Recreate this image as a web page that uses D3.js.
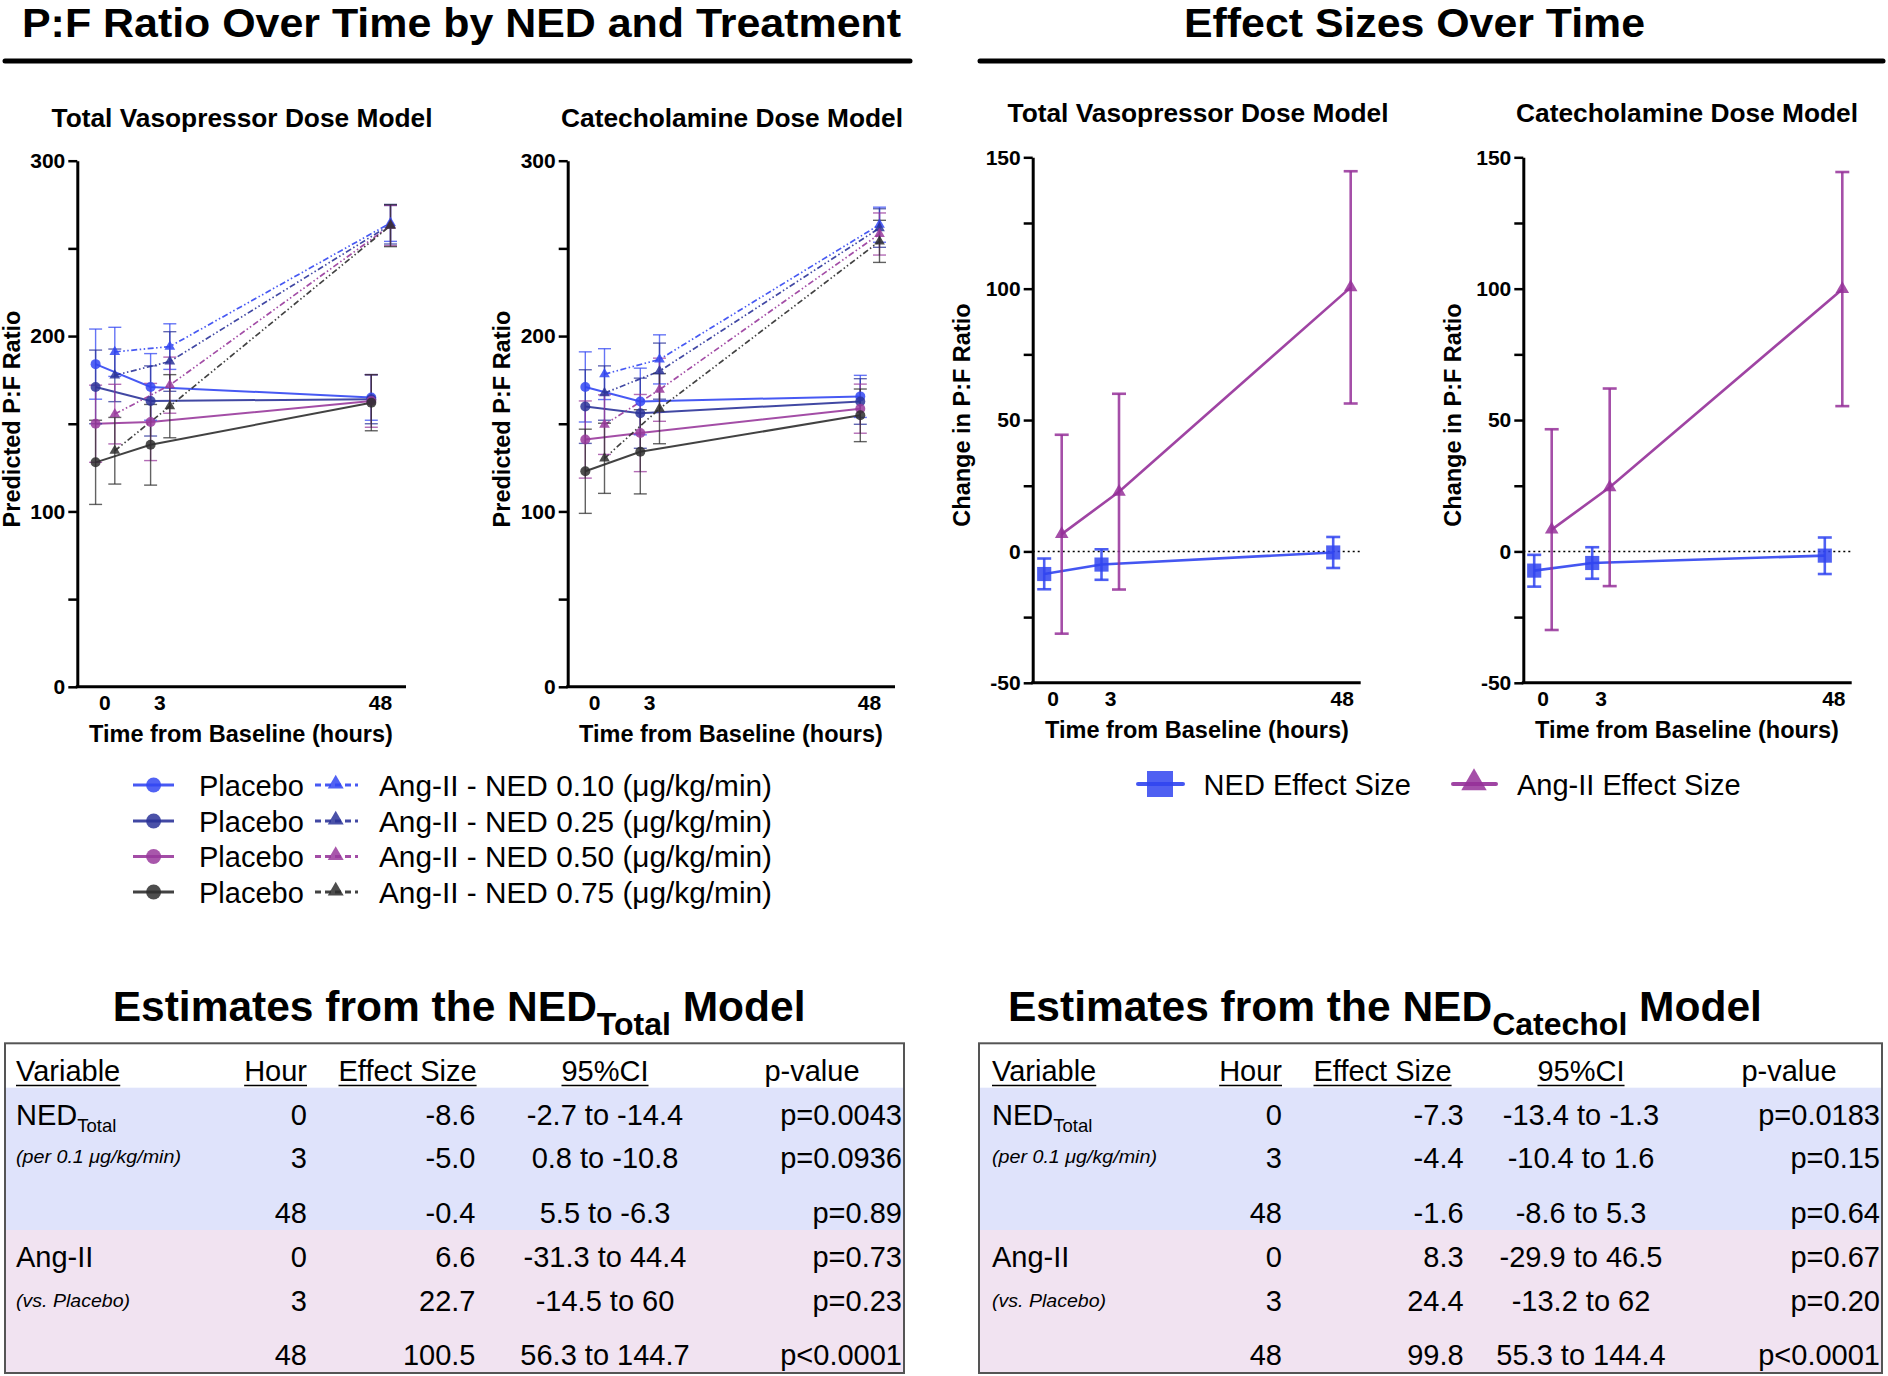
<!DOCTYPE html>
<html><head><meta charset="utf-8">
<script src="https://cdn.jsdelivr.net/npm/d3@7"></script>
<style>body{margin:0;background:#fff} svg{display:block} text{font-family:"Liberation Sans",Arial,Helvetica,sans-serif}</style>
</head><body><svg id="fig" width="1888" height="1376"></svg>
<script>
// ---------------- DATA ----------------
const times = [0, 3, 48];
const pfTickValues = [0, 50, 100, 150, 200, 250, 300];
const pfTickLabels = [0, 100, 200, 300];
const effTickValues = [-50, -25, 0, 25, 50, 75, 100, 125, 150];
const effTickLabels = [-50, 0, 50, 100, 150];
const doses = ["0.10", "0.25", "0.50", "0.75"];
const mainTitles = ["P:F Ratio Over Time by NED and Treatment", "Effect Sizes Over Time"];
const panelTitles = ["Total Vasopressor Dose Model", "Catecholamine Dose Model"];
const xTitle = "Time from Baseline (hours)";
const yTitles = ["Predicted P:F Ratio", "Change in P:F Ratio"];

// Predicted P:F (rows = NED dose 0.10/0.25/0.50/0.75, cols = hour 0/3/48); Err = CI half-width
const totPlaceboMean = [[184, 171, 165], [171, 163, 164], [150, 151, 163], [128, 138, 162]];
const totPlaceboErr  = [[20, 19, 13], [21, 20, 14], [22, 22, 15], [24, 23, 16]];
const totAngMean     = [[191, 194, 264.5], [177.6, 185.5, 263.5], [155.5, 172, 263], [134.6, 160, 263]];
const totAngErr      = [[14, 13, 10.5], [15, 17, 11], [17, 16, 11.5], [19, 18, 12]];
const catPlaceboMean = [[171, 162.7, 165.6], [159.8, 156, 162.7], [141, 144.7, 158.6], [122.9, 134, 154.8]];
const catPlaceboErr  = [[20, 19, 12], [21, 20, 13], [22, 22, 14], [24, 24, 15]];
const catAngMean     = [[178.3, 186.7, 263.5], [167.5, 180, 261.6], [149.5, 169.4, 258.2], [130.3, 158.6, 254]];
const catAngErr      = [[14.5, 14, 10], [15.5, 16, 11], [17, 18, 12], [20, 20, 12]];

// Effect sizes
const totNedEff = [-8.6, -5.0, -0.4], totNedLo = [-14.4, -10.8, -6.3], totNedHi = [-2.7, 0.8, 5.5];
const totAngEff = [6.6, 22.7, 100.5], totAngLo = [-31.3, -14.5, 56.3], totAngHi = [44.4, 60, 144.7];
const catNedEff = [-7.3, -4.4, -1.6], catNedLo = [-13.4, -10.4, -8.6], catNedHi = [-1.3, 1.6, 5.3];
const catAngEff = [8.3, 24.4, 99.8], catAngLo = [-29.9, -13.2, 55.3], catAngHi = [46.5, 62, 144.4];

// Tables
const tableHeaders = ["Variable", "Hour", "Effect Size", "95%CI", "p-value"];
const tableHours = ["0", "3", "48", "0", "3", "48"];
const totEffect = ["-8.6", "-5.0", "-0.4", "6.6", "22.7", "100.5"];
const totCI = ["-2.7 to -14.4", "0.8 to -10.8", "5.5 to -6.3", "-31.3 to 44.4", "-14.5 to 60", "56.3 to 144.7"];
const totP = ["p=0.0043", "p=0.0936", "p=0.89", "p=0.73", "p=0.23", "p<0.0001"];
const catEffect = ["-7.3", "-4.4", "-1.6", "8.3", "24.4", "99.8"];
const catCI = ["-13.4 to -1.3", "-10.4 to 1.6", "-8.6 to 5.3", "-29.9 to 46.5", "-13.2 to 62", "55.3 to 144.4"];
const catP = ["p=0.0183", "p=0.15", "p=0.64", "p=0.67", "p=0.20", "p<0.0001"];

// ---------------- STYLE ----------------
const doseColors = ["#3347f2", "#2c3499", "#993a9c", "#2e2e2e"];
const nedColor = "#3044f0", angColor = "#953099";
const angDash = "6,2.5,1.5,2.5,1.5,2.5";

const svg = d3.select("#fig");

// Headings and rules
svg.append("text").attr("x", 22).attr("y", 37).attr("font-size", 41).attr("font-weight", "bold")
  .attr("textLength", 879).attr("lengthAdjust", "spacingAndGlyphs").text(mainTitles[0]);
svg.append("text").attr("x", 1184).attr("y", 37).attr("font-size", 41).attr("font-weight", "bold")
  .attr("textLength", 461).attr("lengthAdjust", "spacingAndGlyphs").text(mainTitles[1]);
[[5, 910], [980, 1883]].forEach(([a, b]) => {
  svg.append("line").attr("x1", a).attr("x2", b).attr("y1", 61).attr("y2", 61)
    .attr("stroke", "#000").attr("stroke-width", 5).attr("stroke-linecap", "round");
});

function styleAxis(g) {
  g.select(".domain").attr("stroke", "#000").attr("stroke-width", 3);
  g.selectAll(".tick line").attr("stroke", "#000").attr("stroke-width", 2.5);
  g.selectAll(".tick text").attr("font-size", 21).attr("font-weight", "bold").attr("fill", "#000")
    .style("font-family", '"Liberation Sans", Arial, sans-serif');
}

function frame(o, y, x, tickValues, tickLabels) {
  const g = svg.append("g");
  g.append("text").attr("x", o.titleX).attr("y", o.titleY).attr("text-anchor", "middle")
    .attr("font-size", 26.3).attr("font-weight", "bold").text(o.title);
  const ya = g.append("g").attr("transform", `translate(${o.axisX},0)`)
    .call(d3.axisLeft(y).tickValues(tickValues).tickFormat(d => tickLabels.includes(d) ? d : "")
      .tickSize(9).tickSizeOuter(0).tickPadding(3));
  styleAxis(ya);
  g.append("line").attr("x1", o.axisX - 1.5).attr("x2", o.xEnd).attr("y1", y.range()[0]).attr("y2", y.range()[0])
    .attr("stroke", "#000").attr("stroke-width", 3);
  const xa = g.append("g").attr("transform", `translate(0,${o.yBot})`)
    .call(d3.axisBottom(x).tickValues(times).tickFormat(d => String(d)).tickSize(0).tickPadding(8));
  xa.select(".domain").remove();
  styleAxis(xa);
  g.append("text").attr("x", o.xTitleX).attr("y", o.xTitleY).attr("text-anchor", "middle")
    .attr("font-size", 23.5).attr("font-weight", "bold").text(xTitle);
  g.append("text").attr("transform", `translate(${o.yTitleX},${o.yTitleY}) rotate(-90)`).attr("text-anchor", "middle")
    .attr("font-size", 23.5).attr("font-weight", "bold").text(o.yTitle);
  return g;
}

function errBar(g, cx, y0, y1, color, half, w, op) {
  g.append("line").attr("x1", cx).attr("x2", cx).attr("y1", y0).attr("y2", y1)
    .attr("stroke", color).attr("stroke-width", w).attr("stroke-opacity", op);
  [y0, y1].forEach(yy => g.append("line").attr("x1", cx - half).attr("x2", cx + half).attr("y1", yy).attr("y2", yy)
    .attr("stroke", color).attr("stroke-width", w).attr("stroke-opacity", op));
}

function pfPanel(o) {
  const y = d3.scaleLinear().domain([0, 300]).range([o.yBot, o.yTop]);
  const x = d3.scaleLinear().domain(times).range(o.tickX);
  const g = frame(o, y, x, pfTickValues, pfTickLabels);
  const line = d3.line().x(d => d[0]).y(d => y(d[1]));
  const pOff = -8.7, aOff = 10.5;
  doseColors.forEach((c, i) => {
    g.append("path").attr("d", line(times.map((t, j) => [x(t) + aOff, o.am[i][j]])))
      .attr("fill", "none").attr("stroke", c).attr("stroke-width", 1.7).attr("stroke-dasharray", angDash).attr("stroke-opacity", 0.9);
    g.append("path").attr("d", line(times.map((t, j) => [x(t) + pOff, o.pm[i][j]])))
      .attr("fill", "none").attr("stroke", c).attr("stroke-width", 2).attr("stroke-opacity", 0.9);
  });
  doseColors.forEach((c, i) => {
    times.forEach((t, j) => {
      errBar(g, x(t) + pOff, y(o.pm[i][j] - o.pe[i][j]), y(o.pm[i][j] + o.pe[i][j]), c, 6.5, 1.4, 0.75);
      errBar(g, x(t) + aOff, y(o.am[i][j] - o.ae[i][j]), y(o.am[i][j] + o.ae[i][j]), c, 6.5, 1.4, 0.75);
    });
  });
  doseColors.forEach((c, i) => {
    times.forEach((t, j) => {
      g.append("circle").attr("cx", x(t) + pOff).attr("cy", y(o.pm[i][j])).attr("r", 5)
        .attr("fill", c).attr("fill-opacity", 0.85);
      g.append("path").attr("d", d3.symbol(d3.symbolTriangle, 50)())
        .attr("transform", `translate(${x(t) + aOff},${y(o.am[i][j])})`).attr("fill", c).attr("fill-opacity", 0.85);
    });
  });
}

function effPanel(o) {
  const y = d3.scaleLinear().domain([-50, 150]).range([o.yBot, o.yTop]);
  const x = d3.scaleLinear().domain(times).range(o.tickX);
  const g = frame(o, y, x, effTickValues, effTickLabels);
  g.append("line").attr("x1", o.axisX).attr("x2", o.xEnd).attr("y1", y(0)).attr("y2", y(0))
    .attr("stroke", "#000").attr("stroke-width", 1.6).attr("stroke-dasharray", "2,3");
  const line = d3.line().x(d => d[0]).y(d => y(d[1]));
  const nOff = -8.5, aOff = 9;
  g.append("path").attr("d", line(times.map((t, j) => [x(t) + aOff, o.ae[j]])))
    .attr("fill", "none").attr("stroke", angColor).attr("stroke-width", 2.6).attr("stroke-opacity", 0.9);
  g.append("path").attr("d", line(times.map((t, j) => [x(t) + nOff, o.ne[j]])))
    .attr("fill", "none").attr("stroke", nedColor).attr("stroke-width", 2.6).attr("stroke-opacity", 0.9);
  times.forEach((t, j) => {
    errBar(g, x(t) + aOff, y(o.alo[j]), y(o.ahi[j]), angColor, 7, 2.6, 0.85);
    errBar(g, x(t) + nOff, y(o.nlo[j]), y(o.nhi[j]), nedColor, 7, 2.6, 0.85);
  });
  times.forEach((t, j) => {
    g.append("path").attr("d", d3.symbol(d3.symbolTriangle, 80)())
      .attr("transform", `translate(${x(t) + aOff},${y(o.ae[j])})`).attr("fill", angColor).attr("fill-opacity", 0.85);
    g.append("path").attr("d", d3.symbol(d3.symbolSquare, 200)())
      .attr("transform", `translate(${x(t) + nOff},${y(o.ne[j])})`).attr("fill", nedColor).attr("fill-opacity", 0.85);
  });
}

pfPanel({ title: panelTitles[0], titleX: 242, titleY: 126.5, axisX: 77.3, xEnd: 406, yTop: 160.7, yBot: 686.8,
  tickX: [104.3, 159.3, 380], xTitleX: 241, xTitleY: 742, yTitleX: 20, yTitleY: 419, yTitle: yTitles[0],
  pm: totPlaceboMean, pe: totPlaceboErr, am: totAngMean, ae: totAngErr });
pfPanel({ title: panelTitles[1], titleX: 732, titleY: 126.5, axisX: 567.7, xEnd: 895, yTop: 160.7, yBot: 686.8,
  tickX: [594, 649, 869], xTitleX: 731, xTitleY: 742, yTitleX: 510, yTitleY: 419, yTitle: yTitles[0],
  pm: catPlaceboMean, pe: catPlaceboErr, am: catAngMean, ae: catAngErr });
effPanel({ title: panelTitles[0], titleX: 1198, titleY: 122, axisX: 1032.7, xEnd: 1360.7, yTop: 157.3, yBot: 682.8,
  tickX: [1052.7, 1110, 1341.7], xTitleX: 1197, xTitleY: 738, yTitleX: 970, yTitleY: 415, yTitle: yTitles[1],
  ne: totNedEff, nlo: totNedLo, nhi: totNedHi, ae: totAngEff, alo: totAngLo, ahi: totAngHi });
effPanel({ title: panelTitles[1], titleX: 1687, titleY: 122, axisX: 1523.3, xEnd: 1851.7, yTop: 157.3, yBot: 682.8,
  tickX: [1542.7, 1600.7, 1833.3], xTitleX: 1687, xTitleY: 738, yTitleX: 1461, yTitleY: 415, yTitle: yTitles[1],
  ne: catNedEff, nlo: catNedLo, nhi: catNedHi, ae: catAngEff, alo: catAngLo, ahi: catAngHi });

// ---------------- LEGENDS ----------------
const leg = svg.append("g");
const legRowY = [785, 821, 856.5, 892];
doseColors.forEach((c, i) => {
  const yy = legRowY[i];
  leg.append("line").attr("x1", 133).attr("x2", 174).attr("y1", yy).attr("y2", yy)
    .attr("stroke", c).attr("stroke-width", 3).attr("stroke-opacity", 0.9);
  leg.append("circle").attr("cx", 153.6).attr("cy", yy).attr("r", 7.5).attr("fill", c).attr("fill-opacity", 0.85);
  leg.append("text").attr("x", 199).attr("y", yy + 10.5).attr("font-size", 29).text("Placebo");
  leg.append("line").attr("x1", 315).attr("x2", 358).attr("y1", yy).attr("y2", yy)
    .attr("stroke", c).attr("stroke-width", 3).attr("stroke-dasharray", "6,4").attr("stroke-opacity", 0.9);
  leg.append("path").attr("d", d3.symbol(d3.symbolTriangle, 110)()).attr("transform", `translate(335.7,${yy - 1})`)
    .attr("fill", c).attr("fill-opacity", 0.85);
  leg.append("text").attr("x", 379).attr("y", yy + 10.5).attr("font-size", 29)
    .attr("textLength", 393).attr("lengthAdjust", "spacingAndGlyphs").text(`Ang-II - NED ${doses[i]} (μg/kg/min)`);
});
const ly = 784;
leg.append("line").attr("x1", 1138).attr("x2", 1183).attr("y1", ly).attr("y2", ly)
  .attr("stroke", nedColor).attr("stroke-width", 4).attr("stroke-linecap", "round").attr("stroke-opacity", 0.9);
leg.append("rect").attr("x", 1147).attr("y", ly - 13).attr("width", 26).attr("height", 26).attr("fill", nedColor).attr("fill-opacity", 0.85);
leg.append("text").attr("x", 1203.6).attr("y", ly + 10.5).attr("font-size", 29).text("NED Effect Size");
leg.append("line").attr("x1", 1453).attr("x2", 1496).attr("y1", ly).attr("y2", ly)
  .attr("stroke", angColor).attr("stroke-width", 4).attr("stroke-linecap", "round").attr("stroke-opacity", 0.9);
leg.append("path").attr("d", d3.symbol(d3.symbolTriangle, 280)()).attr("transform", `translate(1474,${ly - 1})`)
  .attr("fill", angColor).attr("fill-opacity", 0.85);
leg.append("text").attr("x", 1517).attr("y", ly + 10.5).attr("font-size", 29).text("Ang-II Effect Size");

// ---------------- TABLES ----------------
const rowY = [1125, 1168.3, 1223.3, 1266.7, 1310.7, 1365];
const TF = 29;
function table(o) {
  const g = svg.append("g");
  g.append("rect").attr("x", o.x0).attr("y", 1087.7).attr("width", o.x1 - o.x0).attr("height", 1230 - 1087.7).attr("fill", "#dfe3fb");
  g.append("rect").attr("x", o.x0).attr("y", 1230).attr("width", o.x1 - o.x0).attr("height", 1373 - 1230).attr("fill", "#f1e3f1");
  g.append("rect").attr("x", o.x0).attr("y", 1043.3).attr("width", o.x1 - o.x0).attr("height", 1373 - 1043.3)
    .attr("fill", "none").attr("stroke", "#555").attr("stroke-width", 2);
  const t = g.append("text").attr("x", o.titleX).attr("y", 1020.7).attr("font-size", 42.5).attr("font-weight", "bold");
  t.append("tspan").text("Estimates from the NED");
  t.append("tspan").attr("font-size", 32).attr("dy", 14).text(o.sub);
  t.append("tspan").attr("font-size", 42.5).attr("dy", -14).text(" Model");
  const hdr = [
    { s: tableHeaders[0], x: o.varX, a: "start", u: true },
    { s: tableHeaders[1], x: o.hourX, a: "end", u: true },
    { s: tableHeaders[2], x: o.effHX, a: "end", u: true },
    { s: tableHeaders[3], x: o.ciX, a: "middle", u: true },
    { s: tableHeaders[4], x: o.pHX, a: "middle", u: false }];
  hdr.forEach(h => {
    const tx = g.append("text").attr("x", h.x).attr("y", 1081).attr("font-size", TF).attr("text-anchor", h.a).text(h.s);
    if (h.u) {
      const w = tx.node().getComputedTextLength();
      const sx = h.a === "start" ? h.x : h.a === "end" ? h.x - w : h.x - w / 2;
      g.append("line").attr("x1", sx).attr("x2", sx + w).attr("y1", 1085.5).attr("y2", 1085.5).attr("stroke", "#000").attr("stroke-width", 1.6);
    }
  });
  const n = g.append("text").attr("x", o.varX).attr("y", rowY[0]).attr("font-size", TF);
  n.append("tspan").text("NED");
  n.append("tspan").attr("font-size", 18.5).attr("dy", 7).text("Total");
  g.append("text").attr("x", o.varX).attr("y", rowY[1] - 5).attr("font-size", 19).attr("font-style", "italic")
    .attr("textLength", 165).attr("lengthAdjust", "spacingAndGlyphs").text("(per 0.1 μg/kg/min)");
  g.append("text").attr("x", o.varX).attr("y", rowY[3]).attr("font-size", TF).text("Ang-II");
  g.append("text").attr("x", o.varX).attr("y", rowY[4] - 4).attr("font-size", 19).attr("font-style", "italic")
    .attr("textLength", 114).attr("lengthAdjust", "spacingAndGlyphs").text("(vs. Placebo)");
  rowY.forEach((yy, i) => {
    g.append("text").attr("x", o.hourX).attr("y", yy).attr("font-size", TF).attr("text-anchor", "end").text(tableHours[i]);
    g.append("text").attr("x", o.effX).attr("y", yy).attr("font-size", TF).attr("text-anchor", "end").text(o.eff[i]);
    g.append("text").attr("x", o.ciX).attr("y", yy).attr("font-size", TF).attr("text-anchor", "middle").text(o.ci[i]);
    g.append("text").attr("x", o.pX).attr("y", yy).attr("font-size", TF).attr("text-anchor", "end").text(o.p[i]);
  });
}
table({ x0: 5, x1: 904, titleX: 112.7, sub: "Total", varX: 16, hourX: 307, effHX: 476.6, effX: 475.5, ciX: 605, pHX: 812, pX: 902,
  eff: totEffect, ci: totCI, p: totP });
table({ x0: 979, x1: 1882, titleX: 1008, sub: "Catechol", varX: 992, hourX: 1282, effHX: 1451.6, effX: 1463.6, ciX: 1581, pHX: 1789, pX: 1880,
  eff: catEffect, ci: catCI, p: catP });
</script></body></html>
